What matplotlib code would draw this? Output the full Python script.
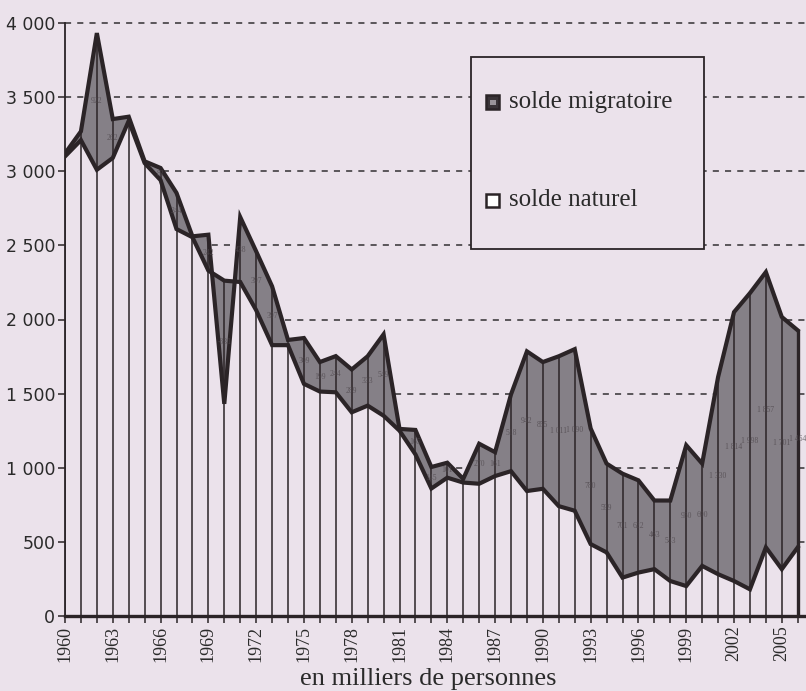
import matplotlib
matplotlib.use("Agg")
import matplotlib.pyplot as plt
from matplotlib.patches import Rectangle
import numpy as np

years = list(range(1960, 2007))
natural = [3100, 3210, 3010, 3090, 3340, 3055, 2940, 2610, 2555, 2330,
           2262, 2253, 2063, 1827, 1827, 1566, 1514, 1509, 1374, 1419,
           1351, 1250, 1090, 860, 933, 900, 892, 944, 977, 843,
           858, 741, 710, 485, 429, 259, 293, 316, 236, 202,
           338, 282, 236, 180, 463, 316, 463]
migration = [20, 59, 922, 262, 28, 12, 82, 244, 6, 242,
             -831, 438, 397, 397, 35, 309, 199, 244, 289, 333,
             549, 12, 165, 145, 101, 25, 270, 161, 518, 942,
             855, 1011, 1090, 780, 599, 701, 622, 463, 543, 950,
             690, 1330, 1814, 1998, 1857, 1701, 1464]
y_ticks = [0, 500, 1000, 1500, 2000, 2500, 3000, 3500, 4000]
y_ticklabels = ["0", "500", "1 000", "1 500", "2 000", "2 500", "3 000", "3 500", "4 000"]
x_label_years = list(range(1960, 2006, 3))
legend_labels = ["solde migratoire", "solde naturel"]
xlabel = "en milliers de personnes"

bg = "#EBE2EB"
ink = "#2b2427"
gray = "#858087"
serif = ["Liberation Serif", "DejaVu Serif"]

yrs = np.array(years)
nat = np.array(natural, dtype=float)
tot = nat + np.array(migration, dtype=float)

fig = plt.figure(figsize=(8.06, 6.91), dpi=100, facecolor=bg)
ax = fig.add_axes([65 / 806, 75 / 691, (805.7 - 65) / 806, 593 / 691])
ax.set_facecolor(bg)
ax.set_xlim(1960, 2006.5)
ax.set_ylim(0, 4000)

# dashed horizontal grid
for yv in y_ticks[1:]:
    ax.plot([1960, 2006.5], [yv, yv], color="#333033", lw=1.1,
            ls=(0, (4, 4)), zorder=1, clip_on=False)

# areas
ax.fill_between(yrs, 0, nat, color=bg, lw=0, zorder=2)
ax.fill_between(yrs, nat, tot, color=gray, lw=0, zorder=3)

# drop lines
tops = np.maximum(nat, tot)
for i, (x, t) in enumerate(zip(yrs, tops)):
    lw = 2.4 if i == len(yrs) - 1 else 1.1
    ax.plot([x, x], [0, t], color=ink, lw=lw, zorder=4, solid_capstyle="butt")

# series lines
ax.plot(yrs, tot, color=ink, lw=3.0, zorder=5, solid_joinstyle="miter")
ax.plot(yrs, nat, color=ink, lw=3.0, zorder=5, solid_joinstyle="miter")

# faint data labels (migration values)
for x, n, t, m in zip(yrs, nat, tot, migration):
    if abs(m) < 60:
        continue
    s = f"{m:,}".replace(",", " ")
    ax.text(x, (n + t) / 2, s, fontsize=5.5, color="#4e474c", ha="center",
            va="center", family=serif, zorder=6, alpha=0.75)

# spines
for s in ["top", "right"]:
    ax.spines[s].set_visible(False)
ax.spines["left"].set_linewidth(1.3)
ax.spines["left"].set_color(ink)
ax.spines["bottom"].set_linewidth(2.4)
ax.spines["bottom"].set_color(ink)
ax.spines["left"].set_zorder(6)
ax.spines["bottom"].set_zorder(6)

ax.set_yticks(y_ticks)
ax.set_yticklabels(y_ticklabels, family="DejaVu Sans", fontsize=12.5, color="#2a2a2a")
ax.tick_params(axis="y", length=5, width=1.1, color=ink, pad=2, direction="out")

ax.set_xticks(yrs, minor=True)
ax.set_xticks(x_label_years)
ax.set_xticklabels([str(y) for y in x_label_years], rotation=90, family=serif,
                   fontsize=13, color="#2a2a2a")
ax.tick_params(axis="x", which="both", length=5, width=1.1, color=ink, pad=2,
               direction="out")

fig.text(428 / 806, 1 - 679 / 691, xlabel, family=serif, fontsize=19,
         color="#2a2a2a", ha="center", va="center")

# legend box
L, R, T, B = 471, 704, 57, 249
fig.add_artist(Rectangle((L / 806, 1 - B / 691), (R - L) / 806, (B - T) / 691,
                         transform=fig.transFigure, facecolor=bg,
                         edgecolor=ink, lw=1.3, zorder=10))
sq = 13
for (cy, fc, inner) in [(102, "#3a3438", "#9a949a"), (200, "white", None)]:
    fig.add_artist(Rectangle(((493 - sq / 2) / 806, 1 - (cy + sq / 2) / 691),
                             sq / 806, sq / 691, transform=fig.transFigure,
                             facecolor=fc, edgecolor=ink, lw=1.8, zorder=11))
    if inner:
        fig.add_artist(Rectangle(((493 - 3) / 806, 1 - (cy + 2.5) / 691),
                                 6 / 806, 5 / 691, transform=fig.transFigure,
                                 facecolor=inner, lw=0, zorder=12))
for cy, lab in zip([102, 200], legend_labels):
    fig.text(509 / 806, 1 - cy / 691, lab, family=serif, fontsize=18,
             color="#2a2a2a", ha="left", va="center", zorder=12)

fig.savefig("out.png", dpi=100, facecolor=bg)
